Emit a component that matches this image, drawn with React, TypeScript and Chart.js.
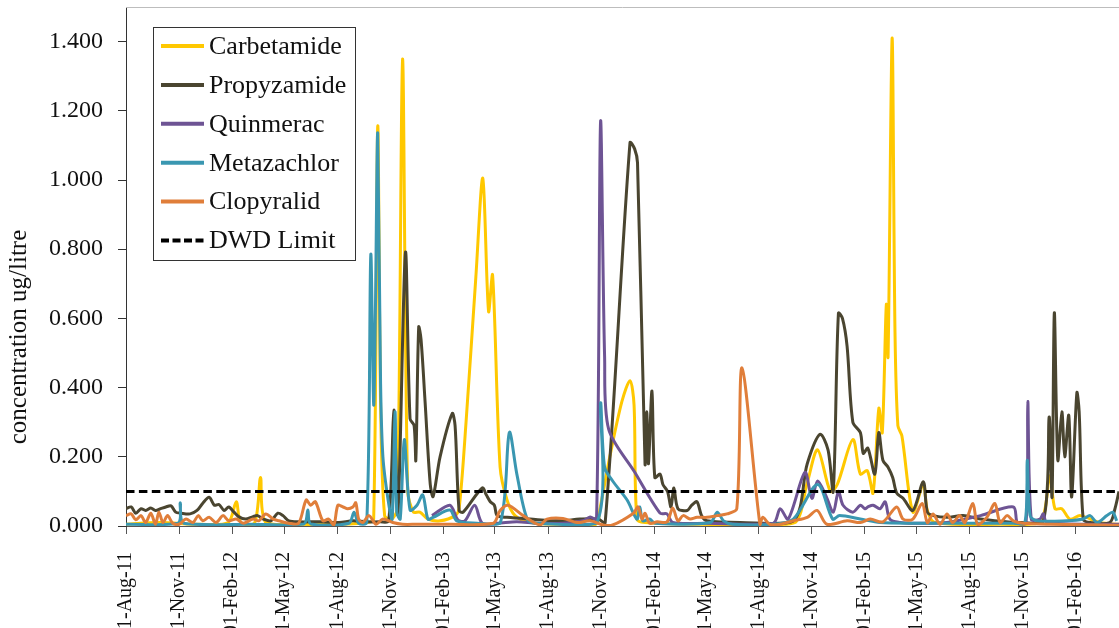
import React, { useEffect, useRef } from "react";
import { Chart, registerables } from "chart.js";

Chart.register(...registerables);

// ---------- data ----------
const START_DATE = "2011-08-01";
const END_DATE = "2016-04-16";
const DWD_LIMIT = 0.1;

const xTickDates = [
  "2011-08-01", "2011-11-01", "2012-02-01", "2012-05-01", "2012-08-01", "2012-11-01",
  "2013-02-01", "2013-05-01", "2013-08-01", "2013-11-01", "2014-02-01", "2014-05-01",
  "2014-08-01", "2014-11-01", "2015-02-01", "2015-05-01", "2015-08-01", "2015-11-01",
  "2016-02-01",
];
const yTickValues = [0, 0.2, 0.4, 0.6, 0.8, 1.0, 1.2, 1.4];
const Y_MAX = 1.5;

const seriesNames = ["Carbetamide", "Propyzamide", "Quinmerac", "Metazachlor", "Clopyralid", "DWD Limit"];
const seriesColors = ["#FFC800", "#4A4530", "#6E5494", "#3A97B1", "#E07E3A", "#000000"];

const carbetamideDates = [
  "2011-08-01", "2011-09-29", "2011-12-07", "2012-01-25", "2012-02-08", "2012-02-16", "2012-03-11",
  "2012-03-21", "2012-03-30", "2012-05-28", "2012-08-05", "2012-09-23", "2012-10-03", "2012-10-10",
  "2012-10-15", "2012-10-22", "2012-11-03", "2012-11-13", "2012-11-22", "2012-12-01", "2012-12-11",
  "2012-12-22", "2013-01-05", "2013-01-26", "2013-02-21", "2013-02-28", "2013-03-12", "2013-03-29",
  "2013-04-10", "2013-04-20", "2013-04-27", "2013-05-10", "2013-05-22", "2013-06-05", "2013-07-01",
  "2013-08-22", "2013-10-23", "2013-10-30", "2013-11-16", "2013-12-07", "2013-12-21", "2013-12-28",
  "2014-01-02", "2014-01-16", "2014-04-21", "2014-08-03", "2014-10-03", "2014-10-24", "2014-11-11",
  "2014-12-03", "2014-12-15", "2015-01-11", "2015-01-24", "2015-02-05", "2015-02-15", "2015-02-25",
  "2015-03-03", "2015-03-10", "2015-03-13", "2015-03-20", "2015-03-25", "2015-03-30", "2015-04-06",
  "2015-04-25", "2015-05-13", "2015-05-20", "2015-06-02", "2015-09-24", "2015-12-01", "2015-12-18",
  "2015-12-27", "2016-01-08", "2016-01-22", "2016-02-09", "2016-03-14", "2016-04-16",
];
const carbetamideValues = [
  0.005, 0.01, 0.005, 0.01, 0.07, 0.01, 0.01,
  0.14, 0.01, 0.005, 0.005, 0.01, 0.02, 1.155,
  0.35, 0.03, 0.02, 0.05, 1.35, 0.1, 0.04,
  0.04, 0.02, 0.015, 0.03, 0.05, 0.3, 0.72,
  1.005, 0.62, 0.725, 0.17, 0.075, 0.03, 0.01,
  0.005, 0.005, 0.05, 0.2, 0.36, 0.42, 0.35,
  0.02, 0.01, 0.005, 0.005, 0.01, 0.125, 0.22,
  0.1, 0.12, 0.25, 0.15, 0.16, 0.095, 0.34,
  0.27, 0.64, 0.49, 1.41, 0.56, 0.29, 0.26,
  0.04, 0.12, 0.045, 0.01, 0.005, 0.01, 0.145,
  0.05, 0.05, 0.02, 0.03, 0.01, 0.005,
];

const propyzamideDates = [
  "2011-08-01", "2011-08-10", "2011-08-18", "2011-08-27", "2011-09-04", "2011-09-13", "2011-09-21",
  "2011-09-30", "2011-10-09", "2011-10-18", "2011-10-26", "2011-11-04", "2011-11-20", "2011-12-02",
  "2011-12-12", "2011-12-23", "2012-01-01", "2012-01-09", "2012-01-18", "2012-01-26", "2012-02-04",
  "2012-02-12", "2012-02-24", "2012-03-08", "2012-03-16", "2012-03-26", "2012-04-08", "2012-04-20",
  "2012-04-29", "2012-05-09", "2012-05-26", "2012-07-02", "2012-08-04", "2012-08-28", "2012-09-20",
  "2012-10-14", "2012-10-29", "2012-11-07", "2012-11-14", "2012-11-27", "2012-12-05", "2012-12-12",
  "2012-12-15", "2012-12-20", "2012-12-24", "2012-12-31", "2013-01-09", "2013-01-14", "2013-01-26",
  "2013-02-16", "2013-02-21", "2013-02-28", "2013-03-07", "2013-04-09", "2013-04-16", "2013-04-23",
  "2013-04-30", "2013-05-05", "2013-05-22", "2013-07-01", "2013-08-22", "2013-09-25", "2013-10-27",
  "2013-11-08", "2013-12-21", "2013-12-29", "2014-01-03", "2014-01-16", "2014-01-19", "2014-01-22",
  "2014-01-28", "2014-02-02", "2014-02-11", "2014-02-16", "2014-02-24", "2014-03-02", "2014-03-07",
  "2014-03-14", "2014-03-30", "2014-04-07", "2014-04-16", "2014-04-24", "2014-05-03", "2014-06-30",
  "2014-09-30", "2014-10-24", "2014-11-15", "2014-11-29", "2014-12-08", "2014-12-17", "2014-12-24",
  "2015-01-01", "2015-01-11", "2015-01-24", "2015-01-29", "2015-02-06", "2015-02-18", "2015-02-25",
  "2015-03-04", "2015-03-13", "2015-03-21", "2015-03-28", "2015-04-08", "2015-04-25", "2015-05-13",
  "2015-05-20", "2015-05-30", "2015-06-23", "2015-07-21", "2015-08-20", "2015-10-16", "2015-10-28",
  "2015-12-07", "2015-12-17", "2015-12-22", "2015-12-26", "2016-01-01", "2016-01-08", "2016-01-13",
  "2016-01-20", "2016-01-25", "2016-02-03", "2016-02-07", "2016-02-14", "2016-02-26", "2016-03-31",
  "2016-04-09", "2016-04-16",
];
const propyzamideValues = [
  0.05, 0.055, 0.037, 0.05, 0.045, 0.052, 0.045,
  0.05, 0.055, 0.058, 0.04, 0.037, 0.035, 0.045,
  0.066, 0.083, 0.06, 0.062, 0.045, 0.055, 0.04,
  0.027, 0.02, 0.027, 0.03, 0.02, 0.015, 0.037,
  0.03, 0.015, 0.012, 0.012, 0.01, 0.015, 0.012,
  0.012, 0.015, 0.335, 0.035, 0.79, 0.31, 0.29,
  0.19, 0.575, 0.54, 0.36, 0.12, 0.085, 0.2,
  0.325, 0.29, 0.045, 0.04, 0.11, 0.09, 0.07,
  0.06, 0.03, 0.025, 0.02, 0.015, 0.02, 0.02,
  0.01, 1.108, 1.09, 1.05, 0.18, 0.33, 0.18,
  0.39, 0.14, 0.15, 0.12, 0.1, 0.055, 0.11,
  0.05, 0.045, 0.06, 0.07, 0.03, 0.015, 0.01,
  0.015, 0.18, 0.265, 0.22, 0.1, 0.615, 0.6,
  0.52, 0.3, 0.27, 0.21, 0.225, 0.15, 0.27,
  0.19, 0.17, 0.14, 0.095, 0.08, 0.045, 0.128,
  0.04, 0.03, 0.025, 0.03, 0.02, 0.01, 0.01,
  0.015, 0.315, 0.084, 0.616, 0.19, 0.33, 0.2,
  0.32, 0.084, 0.385, 0.33, 0.02, 0.01, 0.01,
  0.05, 0.1,
];

const quinmeracDates = [
  "2013-01-12", "2013-02-12", "2013-02-26", "2013-03-10", "2013-03-27", "2013-04-09", "2013-05-05",
  "2013-06-08", "2013-07-13", "2013-08-27", "2013-09-30", "2013-10-13", "2013-10-24", "2013-10-31",
  "2013-11-07", "2013-11-14", "2013-12-29", "2014-02-11", "2014-02-23", "2014-03-05", "2014-05-03",
  "2014-08-26", "2014-09-07", "2014-09-21", "2014-10-20", "2014-11-01", "2014-11-11", "2014-11-26",
  "2014-12-08", "2014-12-17", "2014-12-25", "2015-01-11", "2015-01-24", "2015-02-01", "2015-02-06",
  "2015-02-15", "2015-02-27", "2015-03-08", "2015-03-16", "2015-04-03", "2015-04-25", "2015-06-23",
  "2015-08-20", "2015-10-16", "2015-10-23", "2015-11-07", "2015-11-10", "2015-11-16", "2015-12-01",
  "2015-12-07", "2015-12-13", "2016-04-16",
];
const quinmeracValues = [
  0.03, 0.06, 0.017, 0.015, 0.06, 0.008, 0.008,
  0.012, 0.008, 0.008, 0.015, 0.026, 0.02, 1.168,
  0.49, 0.28, 0.156, 0.037, 0.035, 0.01, 0.008,
  0.008, 0.05, 0.02, 0.155, 0.08, 0.13, 0.085,
  0.04, 0.1, 0.06, 0.04, 0.06, 0.05, 0.055,
  0.06, 0.05, 0.07, 0.02, 0.01, 0.008, 0.01,
  0.03, 0.055, 0.01, 0.01, 0.36, 0.02, 0.02,
  0.035, 0.01, 0.005,
];

const metazachlorDates = [
  "2011-08-01", "2011-10-30", "2011-11-03", "2011-11-09", "2012-03-02", "2012-06-04", "2012-06-11",
  "2012-06-16", "2012-08-21", "2012-08-30", "2012-09-07", "2012-09-21", "2012-09-28", "2012-10-03",
  "2012-10-06", "2012-10-10", "2012-10-15", "2012-10-19", "2012-10-28", "2012-11-04", "2012-11-09",
  "2012-11-12", "2012-11-18", "2012-11-25", "2012-12-05", "2012-12-17", "2012-12-27", "2013-01-05",
  "2013-01-14", "2013-02-12", "2013-02-24", "2013-03-31", "2013-05-10", "2013-05-26", "2013-06-08",
  "2013-06-26", "2013-07-13", "2013-10-24", "2013-10-31", "2013-11-07", "2013-11-21", "2013-12-16",
  "2014-01-02", "2014-01-07", "2014-01-12", "2014-01-24", "2014-02-02", "2014-05-09", "2014-05-21",
  "2014-06-01", "2014-06-17", "2014-08-26", "2014-09-30", "2014-11-11", "2014-12-07", "2014-12-19",
  "2015-01-24", "2015-02-27", "2015-04-25", "2015-10-16", "2015-11-05", "2015-11-09", "2015-11-14",
  "2015-11-26", "2016-01-17", "2016-02-14", "2016-02-26", "2016-03-09", "2016-03-26", "2016-04-05",
  "2016-04-12",
];
const metazachlorValues = [
  0.005, 0.008, 0.067, 0.008, 0.005, 0.006, 0.046,
  0.006, 0.008, 0.04, 0.008, 0.01, 0.784, 0.35,
  0.62, 1.135, 0.41, 0.2, 0.075, 0.02, 0.33,
  0.04, 0.02, 0.25, 0.046, 0.06, 0.09, 0.02,
  0.025, 0.046, 0.015, 0.008, 0.008, 0.27, 0.15,
  0.02, 0.008, 0.008, 0.355, 0.17, 0.13, 0.075,
  0.02, 0.055, 0.015, 0.02, 0.008, 0.01, 0.04,
  0.015, 0.005, 0.005, 0.02, 0.12, 0.02, 0.03,
  0.02, 0.01, 0.008, 0.008, 0.01, 0.19, 0.03,
  0.015, 0.015, 0.02, 0.03, 0.01, 0.03, 0.04,
  0.015,
];

const clopyralidDates = [
  "2011-08-01", "2011-08-10", "2011-08-18", "2011-08-27", "2011-09-04", "2011-09-13", "2011-09-21",
  "2011-09-27", "2011-10-04", "2011-10-12", "2011-10-21", "2011-11-01", "2011-11-13", "2011-11-25",
  "2011-12-04", "2011-12-12", "2011-12-23", "2012-01-04", "2012-01-16", "2012-01-26", "2012-02-08",
  "2012-02-20", "2012-03-08", "2012-03-18", "2012-03-30", "2012-04-12", "2012-04-22", "2012-05-09",
  "2012-05-26", "2012-06-08", "2012-06-16", "2012-06-24", "2012-07-07", "2012-07-17", "2012-07-26",
  "2012-08-02", "2012-08-11", "2012-08-19", "2012-08-28", "2012-09-02", "2012-09-07", "2012-09-14",
  "2012-09-25", "2012-10-07", "2012-10-19", "2012-11-05", "2012-11-22", "2012-12-17", "2013-02-12",
  "2013-04-28", "2013-05-10", "2013-05-24", "2013-06-19", "2013-07-18", "2013-07-30", "2013-08-27",
  "2013-09-20", "2013-10-13", "2013-11-04", "2013-11-21", "2013-12-27", "2014-01-04", "2014-01-11",
  "2014-01-16", "2014-01-24", "2014-02-06", "2014-02-23", "2014-03-05", "2014-03-14", "2014-03-23",
  "2014-04-04", "2014-04-16", "2014-05-03", "2014-05-21", "2014-06-07", "2014-06-24", "2014-07-03",
  "2014-08-03", "2014-08-08", "2014-08-20", "2014-09-07", "2014-09-30", "2014-10-24", "2014-11-10",
  "2014-11-27", "2015-01-01", "2015-01-24", "2015-02-10", "2015-03-04", "2015-03-28", "2015-04-08",
  "2015-04-25", "2015-05-11", "2015-05-20", "2015-05-30", "2015-06-11", "2015-06-23", "2015-07-03",
  "2015-07-15", "2015-07-24", "2015-08-07", "2015-08-15", "2015-08-31", "2015-09-14", "2015-09-23",
  "2015-10-05", "2015-10-16", "2015-11-02", "2015-12-19", "2016-04-16",
];
const clopyralidValues = [
  0.03, 0.035, 0.018, 0.03, 0.01, 0.037, 0.005,
  0.04, 0.01, 0.03, 0.008, 0.005, 0.02, 0.01,
  0.03, 0.015, 0.025, 0.01, 0.03, 0.015, 0.02,
  0.008, 0.02, 0.015, 0.035, 0.02, 0.015, 0.008,
  0.008, 0.075, 0.06, 0.07, 0.015, 0.02, 0.003,
  0.06, 0.055, 0.05, 0.055, 0.067, 0.02, 0.01,
  0.03, 0.005, 0.02, 0.01, 0.005, 0.005, 0.005,
  0.008, 0.045, 0.06, 0.03, 0.003, 0.02, 0.022,
  0.01, 0.015, 0.003, 0.003, 0.037, 0.055, 0.02,
  0.037, 0.008, 0.012, 0.012, 0.052, 0.015, 0.03,
  0.02, 0.025, 0.025, 0.03, 0.035, 0.05, 0.457,
  0.005, 0.025, 0.005, 0.005, 0.015, 0.025, 0.045,
  0.005, 0.015, 0.01, 0.02, 0.012, 0.055, 0.02,
  0.02, 0.065, 0.01, 0.035, 0.005, 0.035, 0.01,
  0.03, 0.01, 0.065, 0.005, 0.025, 0.065, 0.01,
  0.03, 0.015, 0.008, 0.005, 0.002,
];

// ---------- helpers ----------
const MONTHS = ["Jan", "Feb", "Mar", "Apr", "May", "Jun", "Jul", "Aug", "Sep", "Oct", "Nov", "Dec"];
const utc = (s: string) => {
  const [y, m, d] = s.split("-").map(Number);
  return Date.UTC(y, m - 1, d);
};
const toDay = (s: string) => (utc(s) - utc(START_DATE)) / 86400000;
const fmtDate = (s: string) => {
  const [y, m, d] = s.split("-");
  return `${d}-${MONTHS[Number(m) - 1]}-${y.slice(2)}`;
};
const toPoints = (dates: string[], values: number[]) =>
  dates.map((d, i) => ({ x: toDay(d), y: values[i] }));

const SERIF = "'Liberation Serif', 'Times New Roman', serif";
const X_MAX = toDay(END_DATE);

const framePlugin = {
  id: "frame",
  afterDraw(chart: any) {
    const { ctx, chartArea } = chart;
    const { left, top, right } = chartArea;
    ctx.save();
    // top border
    ctx.strokeStyle = "#bdbdbd";
    ctx.lineWidth = 1;
    ctx.beginPath();
    ctx.moveTo(left, top + 0.5);
    ctx.lineTo(right, top + 0.5);
    ctx.stroke();

    // y axis title
    ctx.fillStyle = "#111";
    ctx.font = `25px ${SERIF}`;
    ctx.textAlign = "center";
    ctx.textBaseline = "middle";
    ctx.translate(19, 337);
    ctx.rotate(-Math.PI / 2);
    ctx.fillText("concentration ug/litre", 0, 0);
    ctx.restore();

    // legend box
    ctx.save();
    const bx = left + 27.5;
    const by = top + 20.5;
    const bw = 202;
    const bh = 233;
    ctx.fillStyle = "#ffffff";
    ctx.fillRect(bx, by, bw, bh);
    ctx.strokeStyle = "#333";
    ctx.lineWidth = 1;
    ctx.strokeRect(bx, by, bw, bh);
    ctx.font = `26px ${SERIF}`;
    ctx.textAlign = "left";
    ctx.textBaseline = "middle";
    seriesNames.forEach((name, i) => {
      const cy = top + 39 + i * 38.9;
      ctx.strokeStyle = seriesColors[i];
      ctx.lineWidth = 4;
      if (i === seriesNames.length - 1) ctx.setLineDash([8, 3.5]);
      else ctx.setLineDash([]);
      ctx.beginPath();
      ctx.moveTo(left + 35, cy);
      ctx.lineTo(left + 78, cy);
      ctx.stroke();
      ctx.setLineDash([]);
      ctx.fillStyle = "#111";
      ctx.fillText(name, left + 83, cy + 1);
    });
    ctx.restore();
  },
};

export default function App() {
  const ref = useRef<HTMLCanvasElement>(null);

  useEffect(() => {
    document.body.style.margin = "0";
    const seriesData = [
      toPoints(carbetamideDates, carbetamideValues),
      toPoints(propyzamideDates, propyzamideValues),
      toPoints(quinmeracDates, quinmeracValues),
      toPoints(metazachlorDates, metazachlorValues),
      toPoints(clopyralidDates, clopyralidValues),
      [
        { x: 0, y: DWD_LIMIT },
        { x: X_MAX, y: DWD_LIMIT },
      ],
    ];
    const datasets = seriesData.map((data, i) => ({
      label: seriesNames[i],
      data,
      borderColor: seriesColors[i],
      backgroundColor: seriesColors[i],
      borderWidth: 3,
      pointRadius: 0,
      tension: i === 5 ? 0 : 0.3,
      borderDash: i === 5 ? [8.5, 4.4] : [],
      fill: false,
      order: seriesNames.length - i,
    }));

    const chart = new Chart(ref.current as HTMLCanvasElement, {
      type: "line",
      data: { datasets },
      options: {
        animation: false,
        responsive: false,
        layout: { padding: { top: 7, left: 0, right: 0, bottom: 0 } },
        plugins: { legend: { display: false }, tooltip: { enabled: false } },
        scales: {
          x: {
            type: "linear",
            min: 0,
            max: X_MAX,
            afterBuildTicks: (scale: any) => {
              scale.ticks = xTickDates.map((d) => ({ value: toDay(d) }));
            },
            afterFit: (scale: any) => {
              scale.height = 102;
              scale.paddingLeft = 0;
              scale.paddingRight = 0;
            },
            ticks: {
              autoSkip: false,
              minRotation: 90,
              maxRotation: 90,
              padding: 18,
              color: "#111",
              font: { family: SERIF, size: 20 },
              callback: (_v: any, index: number) => fmtDate(xTickDates[index]),
            },
            grid: { drawOnChartArea: false, drawTicks: true, tickLength: 8, color: "#555" },
            border: { display: true, color: "#555", width: 1 },
          },
          y: {
            type: "linear",
            min: 0,
            max: Y_MAX,
            afterBuildTicks: (scale: any) => {
              scale.ticks = yTickValues.map((v) => ({ value: v }));
            },
            afterFit: (scale: any) => {
              scale.width = 126;
              scale.paddingTop = 0;
              scale.paddingBottom = 0;
            },
            ticks: {
              padding: 15,
              color: "#111",
              font: { family: SERIF, size: 24 },
              callback: (v: any) => Number(v).toFixed(3),
            },
            grid: { drawOnChartArea: false, drawTicks: true, tickLength: 8, color: "#333" },
            border: { display: true, color: "#333", width: 1 },
          },
        },
      } as any,
      plugins: [framePlugin],
    });
    return () => chart.destroy();
  }, []);

  return (
    <div style={{ width: 1119, height: 628 }}>
      <canvas ref={ref} width={1119} height={628} style={{ display: "block" }} />
    </div>
  );
}
